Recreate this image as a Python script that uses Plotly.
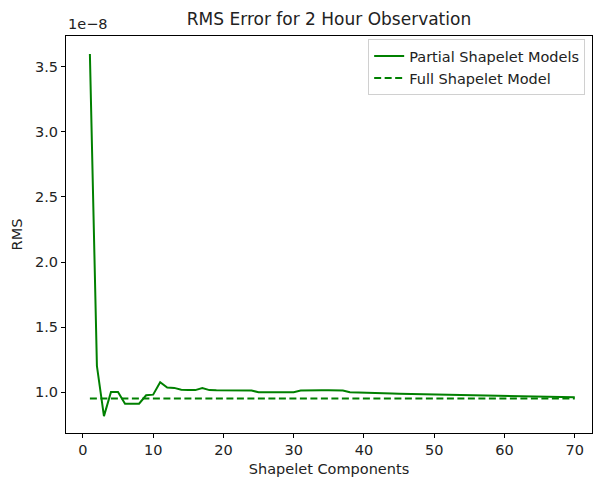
import plotly.graph_objects as go

# Data (RMS values in units of 1e-8)
components = list(range(1, 71))
partial_rms = [
    3.60, 1.20, 0.815, 1.00, 1.00, 0.91, 0.91, 0.91, 0.975, 0.98,
    1.075, 1.035, 1.032, 1.018, 1.015, 1.015, 1.030, 1.015, 1.013, 1.013,
    1.013, 1.013, 1.013, 1.012, 0.998, 0.997, 0.997, 0.997, 0.997, 0.998,
    1.012, 1.014, 1.014, 1.014, 1.014, 1.013, 1.012, 0.999, 0.998, 0.996,
    0.992, 0.990, 0.989, 0.988, 0.986, 0.985, 0.984, 0.983, 0.982, 0.980,
    0.979, 0.978, 0.978, 0.977, 0.976, 0.975, 0.974, 0.973, 0.972, 0.970,
    0.968, 0.967, 0.966, 0.965, 0.964, 0.963, 0.962, 0.962, 0.961, 0.960,
]
full_rms_value = 0.95
scale = 1e-8

y_tick_vals = [1.0, 1.5, 2.0, 2.5, 3.0, 3.5]
y_tick_text = ["1.0", "1.5", "2.0", "2.5", "3.0", "3.5"]
x_tick_vals = [0, 10, 20, 30, 40, 50, 60, 70]

partial = [v * scale for v in partial_rms]
full = [full_rms_value * scale for _ in components]

FONT = "DejaVu Sans"
FS = 14.5
W, H = 595, 483
L, R, T, B = 66, 3, 36, 50

fig = go.Figure()
fig.add_trace(go.Scatter(
    x=components, y=partial, mode="lines", name="Partial Shapelet Models",
    line=dict(color="#008000", width=2),
))
fig.add_trace(go.Scatter(
    x=components, y=full, mode="lines", name="Full Shapelet Model",
    line=dict(color="#008000", width=2, dash="7px,3.5px"),
))

axis_common = dict(
    showline=True, linecolor="black", linewidth=1, mirror=True,
    ticks="outside", ticklen=4, tickcolor="black", tickwidth=1,
    showgrid=False, zeroline=False,
    tickfont=dict(family=FONT, size=FS, color="#222"),
)

fig.update_layout(
    width=W, height=H,
    margin=dict(l=L, r=R, t=T, b=B),
    paper_bgcolor="white", plot_bgcolor="white",
    font=dict(family=FONT, size=FS, color="#222"),
    showlegend=True,
    legend=dict(
        x=0.987, xanchor="right", y=0.992, yanchor="top",
        bgcolor="rgba(255,255,255,0.9)", bordercolor="#d0d0d0", borderwidth=1,
        font=dict(family=FONT, size=FS, color="#222"),
        itemwidth=30, tracegroupgap=0,
    ),
    xaxis=dict(
        range=[-2.4, 72.45], tickvals=x_tick_vals,
        title=dict(text="Shapelet Components", font=dict(family=FONT, size=FS), standoff=6),
        **axis_common,
    ),
    yaxis=dict(
        range=[0.685 * scale, 3.738 * scale],
        tickvals=[v * scale for v in y_tick_vals], ticktext=y_tick_text,
        title=dict(text="RMS", font=dict(family=FONT, size=FS), standoff=8),
        **axis_common,
    ),
    title=dict(
        text="RMS Error for 2 Hour Observation",
        font=dict(family=FONT, size=17, color="#222"),
        x=(L + (W - L - R) / 2) / W, xanchor="center",
        y=1 - 19 / H, yanchor="middle",
    ),
    annotations=[dict(
        text="1e\u22128", xref="paper", yref="paper", x=0, y=1,
        xanchor="left", yanchor="bottom", yshift=2, showarrow=False,
        font=dict(family=FONT, size=FS, color="#222"),
    )],
)

fig.write_html("out.html")
